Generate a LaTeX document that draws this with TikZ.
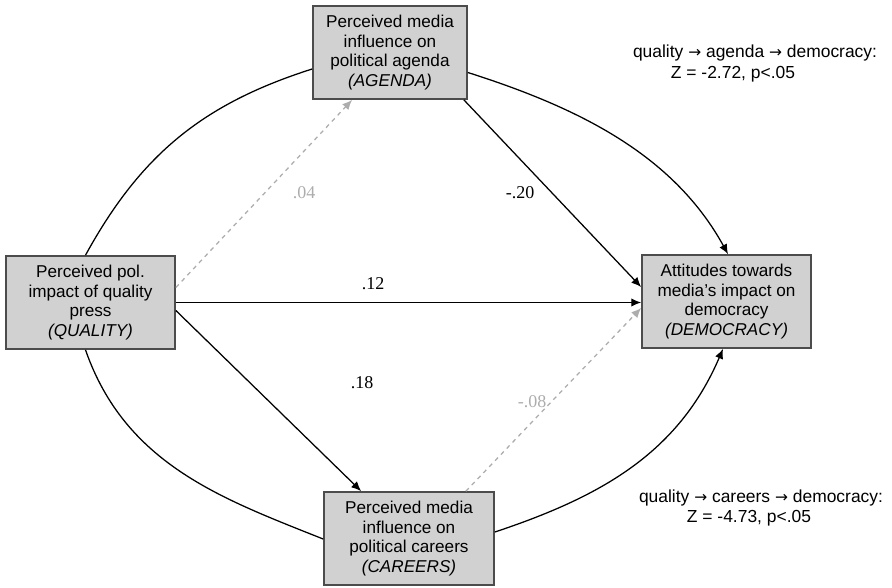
\documentclass[tikz,border=0pt]{standalone}
\usepackage{fontspec}
\setmainfont{Liberation Serif}
\setsansfont{Liberation Sans}
\newfontfamily\arrowfont{DejaVu Sans}
\newcommand{\pathto}{{\arrowfont\fontsize{11}{14}\selectfont →}}
\usetikzlibrary{arrows.meta,calc}
\definecolor{boxgray}{gray}{0.82}
\definecolor{edgegray}{gray}{0.3}
\definecolor{dashgray}{gray}{0.68}
\begin{document}
\begin{tikzpicture}[x=0.025cm,y=-0.025cm,
  box/.style={draw=edgegray,line width=1.2pt,fill=boxgray,minimum height=2.325cm,inner sep=0pt,align=center,font=\sffamily\fontsize{12.2}{13.9}\selectfont},
  arr/.style={-{Latex[length=7pt,width=6pt]},line width=0.9pt},
  dasharr/.style={arr,dashgray,dashed},
  link/.style={line width=0.9pt},
  coef/.style={font=\fontsize{12.8}{14}\selectfont},
  note/.style={font=\sffamily\fontsize{12.4}{14}\selectfont}]
\path[use as bounding box] (0,0) rectangle (892,587);
% the four variables
\node[box,minimum width=4.225cm] (quality) at (90.5,302.5) {Perceived pol.\\impact of quality\\press\\\textit{(QUALITY)}};
\node[box,minimum width=3.85cm] (agenda) at (390,52.5) {Perceived media\\influence on\\political agenda\\\textit{(AGENDA)}};
\node[box,minimum width=4.225cm] (democracy) at (726.5,301.5) {Attitudes towards\\media's impact on\\democracy\\\textit{(DEMOCRACY)}};
\node[box,minimum width=4.25cm] (careers) at (409,538.5) {Perceived media\\influence on\\political careers\\\textit{(CAREERS)}};
% direct paths
\draw[arr] (quality.east) -- (quality.east -| democracy.west);
\draw[dasharr] ($(quality.east)+(0,-15)$) -- ($(agenda.south west)+(40,0)$);
\draw[arr] ($(quality.east)+(0,8)$) -- ($(careers.north west)+(38,0)$);
\draw[arr] ($(agenda.south east)+(-4,0)$) -- ($(democracy.west)+(0,-14.5)$);
\draw[dasharr] ($(careers.north east)+(-29,0)$) -- ($(democracy.west)+(0,6.5)$);
% indirect paths
\draw[link] ($(quality.north)+(-5,0)$) .. controls +(55,-100) and +(-110,35) .. ($(agenda.west)+(0,16.5)$);
\draw[arr] ($(agenda.east)+(0,20)$) .. controls +(110,35) and +(-55,-100) .. ($(democracy.north)+(1.5,0)$);
\draw[link] ($(quality.south)+(-5,0)$) .. controls +(40,115) and +(-100,-40) .. ($(careers.west)+(0,0.5)$);
\draw[arr] ($(careers.east)+(0,-6.5)$) .. controls +(105,-35) and +(-45,105) .. ($(democracy.south)+(-3.5,0)$);
% coefficients
\node[coef,text=dashgray] (c04) at (304,193) {.04};
\node[coef] (c20) at (520,193) {-.20};
\node[coef] (c12) at (373,284) {.12};
\node[coef] (c18) at (362,383) {.18};
\node[coef,text=dashgray] (c08) at (532,402) {-.08};
% indirect effects
\node[note] (zagenda) at (755,53) {quality \pathto{} agenda \pathto{} democracy:};
\node[note] (zagendastat) at (733,74) {Z = -2.72, p<.05};
\node[note] (zcareers) at (761,498) {quality \pathto{} careers \pathto{} democracy:};
\node[note] (zcareersstat) at (749,518) {Z = -4.73, p<.05};
\end{tikzpicture}
\end{document}
